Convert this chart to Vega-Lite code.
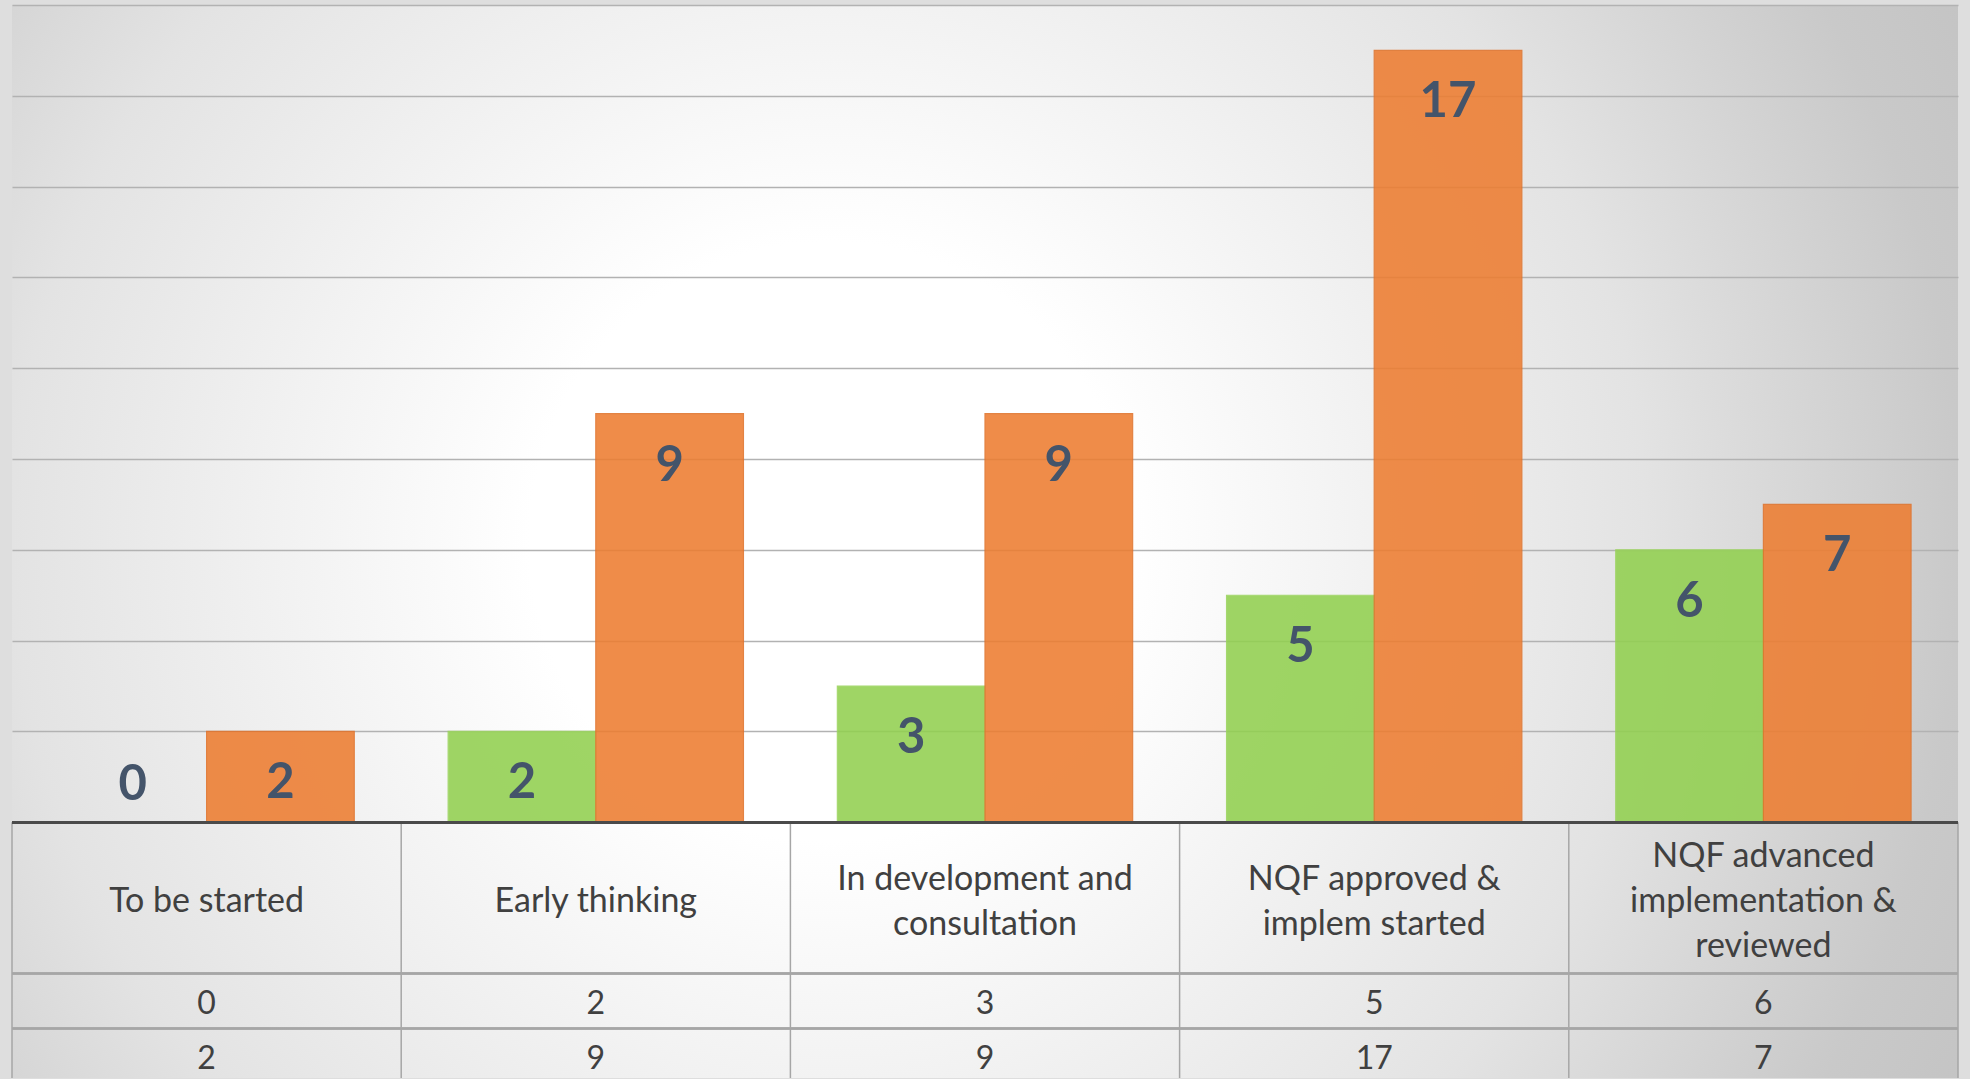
{
  "$schema": "https://vega.github.io/schema/vega-lite/v6.json",
  "autosize": {"type": "fit", "contains": "padding"},
  "width": 1970,
  "height": 1079,
  "padding": {"left": 10, "top": 5, "right": 10, "bottom": 0},
  "background": "#dedede",
  "config": {
    "view": {
      "stroke": null,
      "fill": {
        "gradient": "radial",
        "x1": 0.42, "y1": 0.5, "r1": 0,
        "x2": 0.42, "y2": 0.5, "r2": 0.7,
        "stops": [
          {"offset": 0, "color": "#ffffff"},
          {"offset": 0.22, "color": "#ffffff"},
          {"offset": 0.6, "color": "#e3e3e3"},
          {"offset": 0.83, "color": "#c9c9c9"},
          {"offset": 1, "color": "#c0c0c0"}
        ]
      }
    },
    "text": {"font": "Lato"}
  },
  "data": {
    "values": [
      {"stage": "To be started", "series": "Series 1", "value": 0},
      {"stage": "To be started", "series": "Series 2", "value": 2},
      {"stage": "Early thinking", "series": "Series 1", "value": 2},
      {"stage": "Early thinking", "series": "Series 2", "value": 9},
      {"stage": "In development and\nconsultation", "series": "Series 1", "value": 3},
      {"stage": "In development and\nconsultation", "series": "Series 2", "value": 9},
      {"stage": "NQF approved &\nimplem started", "series": "Series 1", "value": 5},
      {"stage": "NQF approved &\nimplem started", "series": "Series 2", "value": 17},
      {"stage": "NQF advanced\nimplementation &\nreviewed", "series": "Series 1", "value": 6},
      {"stage": "NQF advanced\nimplementation &\nreviewed", "series": "Series 2", "value": 7}
    ]
  },
  "layer": [
    {
      "mark": {"type": "bar", "opacity": 0.88, "strokeWidth": 1.2},
      "encoding": {
        "x": {"field": "stage", "type": "nominal", "sort": null, "scale": {"paddingInner": 0, "paddingOuter": 0}, "axis": null},
        "xOffset": {
          "field": "series",
          "type": "nominal",
          "scale": {"paddingInner": 0, "paddingOuter": 0.318}
        },
        "y": {
          "field": "value",
          "type": "quantitative",
          "scale": {"domain": [-5.633, 18], "nice": false, "zero": false},
          "axis": {
            "values": [2, 4, 6, 8, 10, 12, 14, 16, 18],
            "labels": false,
            "ticks": false,
            "domain": false,
            "title": null,
            "grid": true,
            "gridColor": "#b2b2b2",
            "gridWidth": 1.5
          }
        },
        "y2": {"datum": 0},
        "fill": {
          "field": "series",
          "type": "nominal",
          "scale": {"range": ["#92D050", "#ED7D31"]},
          "legend": null
        },
        "stroke": {
          "field": "series",
          "type": "nominal",
          "scale": {"range": ["#9ad35c", "#e0722a"]},
          "legend": null
        }
      }
    },
    {
      "transform": [{"filter": "datum.value > 0"}],
      "mark": {"type": "text", "fontSize": 49, "fontWeight": "bold", "color": "#44546A", "baseline": "middle", "dy": 52},
      "encoding": {
        "x": {"field": "stage", "type": "nominal", "sort": null},
        "xOffset": {"field": "series", "type": "nominal", "scale": {"paddingInner": 0, "paddingOuter": 0.318}},
        "y": {"field": "value", "type": "quantitative"},
        "text": {"field": "value", "type": "quantitative"}
      }
    },
    {
      "transform": [{"filter": "datum.value == 0"}],
      "mark": {"type": "text", "fontSize": 49, "fontWeight": "bold", "color": "#44546A", "baseline": "middle", "dy": -37},
      "encoding": {
        "x": {"field": "stage", "type": "nominal", "sort": null},
        "xOffset": {"field": "series", "type": "nominal", "scale": {"paddingInner": 0, "paddingOuter": 0.318}},
        "y": {"field": "value", "type": "quantitative"},
        "text": {"field": "value", "type": "quantitative"}
      }
    },
    {
      "transform": [{"filter": "datum.series == 'Series 1'"}],
      "mark": {"type": "rule", "color": "#a6a6a6", "strokeWidth": 1.5},
      "encoding": {
        "x": {"field": "stage", "type": "nominal", "sort": null, "bandPosition": 0},
        "y": {"datum": 0},
        "y2": {"datum": -5.633}
      }
    },
    {
      "transform": [{"filter": "datum.series == 'Series 1' && datum.value == 6"}],
      "mark": {"type": "rule", "color": "#a6a6a6", "strokeWidth": 1.5},
      "encoding": {
        "x": {"field": "stage", "type": "nominal", "sort": null, "bandPosition": 1},
        "y": {"datum": 0},
        "y2": {"datum": -5.633}
      }
    },
    {
      "mark": {"type": "rule", "color": "#a6a6a6", "strokeWidth": 1.5},
      "encoding": {"y": {"datum": -3.33}}
    },
    {
      "mark": {"type": "rule", "color": "#a6a6a6", "strokeWidth": 1.5},
      "encoding": {"y": {"datum": -4.54}}
    },
    {
      "mark": {"type": "rule", "color": "#4a4a4a", "strokeWidth": 2.5},
      "encoding": {"y": {"datum": 0}}
    },
    {
      "transform": [{"filter": "datum.series == 'Series 1' && length(split(datum.stage, '\\n')) == 1"}],
      "mark": {"type": "text", "fontSize": 34, "color": "#404040", "baseline": "middle", "lineBreak": "\n", "lineHeight": 45, "dy": 5},
      "encoding": {
        "x": {"field": "stage", "type": "nominal", "sort": null},
        "y": {"datum": -1.65},
        "text": {"field": "stage", "type": "nominal"}
      }
    },
    {
      "transform": [{"filter": "datum.series == 'Series 1' && length(split(datum.stage, '\\n')) == 2"}],
      "mark": {"type": "text", "fontSize": 34, "color": "#404040", "baseline": "middle", "lineBreak": "\n", "lineHeight": 45, "dy": -17.5},
      "encoding": {
        "x": {"field": "stage", "type": "nominal", "sort": null},
        "y": {"datum": -1.65},
        "text": {"field": "stage", "type": "nominal"}
      }
    },
    {
      "transform": [{"filter": "datum.series == 'Series 1' && length(split(datum.stage, '\\n')) == 3"}],
      "mark": {"type": "text", "fontSize": 34, "color": "#404040", "baseline": "middle", "lineBreak": "\n", "lineHeight": 45, "dy": -40},
      "encoding": {
        "x": {"field": "stage", "type": "nominal", "sort": null},
        "y": {"datum": -1.65},
        "text": {"field": "stage", "type": "nominal"}
      }
    },
    {
      "transform": [{"filter": "datum.series == 'Series 1'"}],
      "mark": {"type": "text", "fontSize": 32, "color": "#404040", "baseline": "middle", "dy": 5},
      "encoding": {
        "x": {"field": "stage", "type": "nominal", "sort": null},
        "y": {"datum": -3.895},
        "text": {"field": "value", "type": "quantitative"}
      }
    },
    {
      "transform": [{"filter": "datum.series == 'Series 2'"}],
      "mark": {"type": "text", "fontSize": 32, "color": "#404040", "baseline": "middle", "dy": 6},
      "encoding": {
        "x": {"field": "stage", "type": "nominal", "sort": null},
        "y": {"datum": -5.083},
        "text": {"field": "value", "type": "quantitative"}
      }
    }
  ]
}
